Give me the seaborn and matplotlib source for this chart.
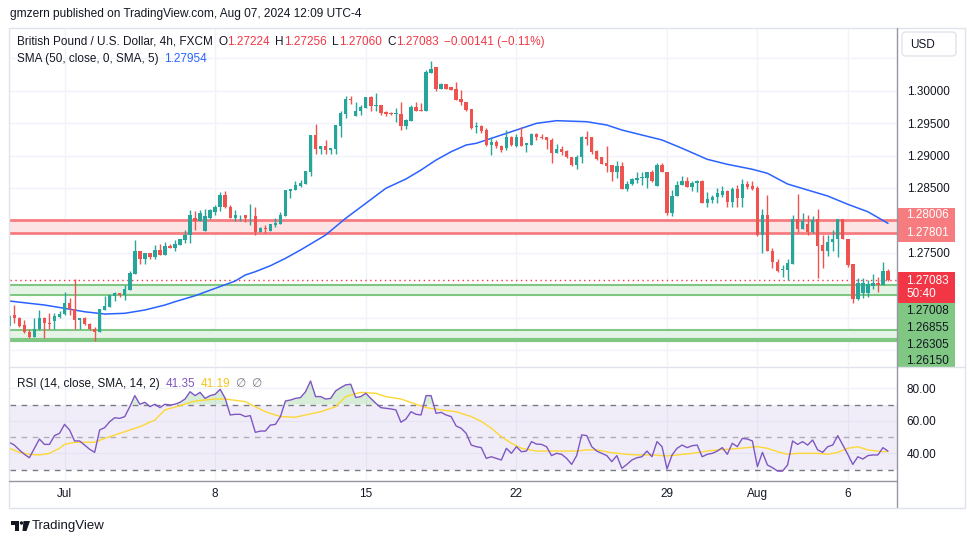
import numpy as np
import matplotlib
matplotlib.use("Agg")
import matplotlib.pyplot as plt
import seaborn as sns
from matplotlib.patches import Rectangle, FancyBboxPatch, Polygon, Circle

# GBPUSD 4h (FXCM), candles, oldest first
opens = [
    1.2637, 1.2654, 1.2650, 1.2639, 1.2628, 1.2620, 1.2632, 1.2649, 1.2641, 1.2645,
    1.2651, 1.2655, 1.2673, 1.2664, 1.2646, 1.2649, 1.2640, 1.2632, 1.2627, 1.2662,
    1.2667, 1.2683, 1.2688, 1.2685, 1.2693, 1.2718, 1.2753, 1.2740, 1.2749, 1.2743,
    1.2754, 1.2747, 1.2761, 1.2757, 1.2762, 1.2770, 1.2778, 1.2803, 1.2799, 1.2784,
    1.2803, 1.2813, 1.2820, 1.2839, 1.2821, 1.2804, 1.2806, 1.2808, 1.2806, 1.2806,
    1.2782, 1.2788, 1.2784, 1.2793, 1.2794, 1.2807, 1.2846, 1.2847, 1.2853, 1.2856,
    1.2875, 1.2932, 1.2910, 1.2915, 1.2909, 1.2910, 1.2946, 1.2964, 1.2987, 1.2961,
    1.2968, 1.2974, 1.2991, 1.2977, 1.2978, 1.2967, 1.2966, 1.2964, 1.2964, 1.2946,
    1.2954, 1.2975, 1.2971, 1.2968, 1.3028, 1.3036, 1.3002, 1.3010, 1.3005, 1.3003,
    1.2987, 1.2982, 1.2972, 1.2944, 1.2946, 1.2939, 1.2916, 1.2921, 1.2915, 1.2911,
    1.2929, 1.2915, 1.2929, 1.2917, 1.2916, 1.2933, 1.2929, 1.2929, 1.2924, 1.2904,
    1.2910, 1.2907, 1.2898, 1.2886, 1.2897, 1.2929, 1.2928, 1.2907, 1.2897, 1.2889,
    1.2885, 1.2874, 1.2884, 1.2848, 1.2856, 1.2862, 1.2866, 1.2866, 1.2875, 1.2853,
    1.2885, 1.2875, 1.2812, 1.2837, 1.2854, 1.2861, 1.2852, 1.2858, 1.2860, 1.2827,
    1.2832, 1.2836, 1.2839, 1.2845, 1.2829, 1.2848, 1.2835, 1.2856, 1.2853, 1.2850,
    1.2778, 1.2809, 1.2753, 1.2735, 1.2723, 1.2723, 1.2733, 1.2802, 1.2787, 1.2794,
    1.2782, 1.2802, 1.2762, 1.2752, 1.2766, 1.2771, 1.2802, 1.2772, 1.2732, 1.2678,
    1.2688, 1.2688, 1.2699, 1.2703, 1.2701, 1.27224]
highs = [
    1.2655, 1.2669, 1.2651, 1.2646, 1.2633, 1.2649, 1.2662, 1.2651, 1.2657, 1.2657,
    1.2660, 1.2689, 1.2680, 1.2709, 1.2650, 1.2651, 1.2642, 1.2635, 1.2663, 1.2683,
    1.2685, 1.2690, 1.2688, 1.2700, 1.2722, 1.2770, 1.2753, 1.2750, 1.2750, 1.2762,
    1.2763, 1.2766, 1.2764, 1.2770, 1.2772, 1.2785, 1.2816, 1.2814, 1.2816, 1.2818,
    1.2818, 1.2824, 1.2844, 1.2846, 1.2823, 1.2816, 1.2808, 1.2809, 1.2825, 1.2821,
    1.2790, 1.2793, 1.2794, 1.2803, 1.2813, 1.2847, 1.2848, 1.2860, 1.2862, 1.2876,
    1.2932, 1.2949, 1.2915, 1.2924, 1.2912, 1.2947, 1.2969, 1.2992, 1.2992, 1.2982,
    1.2978, 1.2991, 1.2992, 1.2996, 1.2978, 1.2969, 1.2967, 1.2973, 1.2982, 1.2957,
    1.2978, 1.2982, 1.2981, 1.3032, 1.3046, 1.3037, 1.3012, 1.3011, 1.3006, 1.3014,
    1.3001, 1.2983, 1.2972, 1.2951, 1.2947, 1.2942, 1.2929, 1.2924, 1.2916, 1.2939,
    1.2930, 1.2934, 1.2944, 1.2920, 1.2935, 1.2935, 1.2934, 1.2929, 1.2927, 1.2918,
    1.2914, 1.2909, 1.2898, 1.2901, 1.2930, 1.2938, 1.2928, 1.2909, 1.2898, 1.2914,
    1.2885, 1.2892, 1.2890, 1.2861, 1.2866, 1.2874, 1.2875, 1.2875, 1.2878, 1.2888,
    1.2888, 1.2875, 1.2847, 1.2861, 1.2868, 1.2867, 1.2860, 1.2862, 1.2863, 1.2844,
    1.2839, 1.2850, 1.2853, 1.2847, 1.2852, 1.2855, 1.2864, 1.2861, 1.2860, 1.2853,
    1.2817, 1.2839, 1.2757, 1.2740, 1.2731, 1.2740, 1.2808, 1.2840, 1.2812, 1.2808,
    1.2806, 1.2817, 1.2778, 1.2778, 1.2785, 1.2802, 1.2802, 1.2772, 1.2732, 1.2711,
    1.2711, 1.2708, 1.2717, 1.2713, 1.2736, 1.27256]
lows = [
    1.2634, 1.2642, 1.2636, 1.2626, 1.2619, 1.2620, 1.2631, 1.2619, 1.2632, 1.2632,
    1.2650, 1.2654, 1.2654, 1.2633, 1.2632, 1.2639, 1.2631, 1.2614, 1.2627, 1.2661,
    1.2667, 1.2675, 1.2681, 1.2677, 1.2692, 1.2718, 1.2733, 1.2733, 1.2741, 1.2741,
    1.2747, 1.2746, 1.2757, 1.2752, 1.2762, 1.2765, 1.2765, 1.2785, 1.2799, 1.2784,
    1.2802, 1.2808, 1.2814, 1.2819, 1.2803, 1.2799, 1.2799, 1.2797, 1.2793, 1.2778,
    1.2782, 1.2780, 1.2784, 1.2790, 1.2794, 1.2807, 1.2834, 1.2847, 1.2852, 1.2856,
    1.2869, 1.2903, 1.2903, 1.2902, 1.2903, 1.2902, 1.2928, 1.2958, 1.2979, 1.2961,
    1.2963, 1.2973, 1.2969, 1.2969, 1.2963, 1.2961, 1.2963, 1.2952, 1.2939, 1.2941,
    1.2954, 1.2968, 1.2968, 1.2968, 1.3028, 1.3000, 1.3002, 1.3003, 1.3001, 1.2985,
    1.2978, 1.2969, 1.2941, 1.2935, 1.2935, 1.2915, 1.2901, 1.2912, 1.2906, 1.2909,
    1.2915, 1.2913, 1.2915, 1.2906, 1.2916, 1.2924, 1.2925, 1.2910, 1.2889, 1.2904,
    1.2901, 1.2896, 1.2884, 1.2879, 1.2889, 1.2916, 1.2902, 1.2893, 1.2887, 1.2875,
    1.2860, 1.2865, 1.2848, 1.2845, 1.2855, 1.2857, 1.2855, 1.2850, 1.2859, 1.2853,
    1.2874, 1.2809, 1.2807, 1.2837, 1.2854, 1.2852, 1.2846, 1.2844, 1.2827, 1.2821,
    1.2827, 1.2827, 1.2836, 1.2821, 1.2821, 1.2821, 1.2820, 1.2848, 1.2847, 1.2776,
    1.2750, 1.2752, 1.2727, 1.2721, 1.2713, 1.2708, 1.2733, 1.2782, 1.2787, 1.2777,
    1.2781, 1.2711, 1.2727, 1.2745, 1.2752, 1.2743, 1.2771, 1.2728, 1.2672, 1.2677,
    1.2680, 1.2681, 1.2694, 1.2690, 1.2700, 1.27060]
closes = [
    1.2652, 1.2650, 1.2637, 1.2627, 1.2620, 1.2633, 1.2649, 1.2641, 1.2640, 1.2652,
    1.2655, 1.2672, 1.2664, 1.2646, 1.2650, 1.2640, 1.2632, 1.2627, 1.2663, 1.2668,
    1.2685, 1.2688, 1.2685, 1.2694, 1.2719, 1.2753, 1.2740, 1.2749, 1.2743, 1.2754,
    1.2747, 1.2760, 1.2758, 1.2763, 1.2771, 1.2778, 1.2809, 1.2799, 1.2811, 1.2806,
    1.2816, 1.2820, 1.2839, 1.2820, 1.2804, 1.2808, 1.2807, 1.2804, 1.2807, 1.2782,
    1.2788, 1.2786, 1.2794, 1.2796, 1.2808, 1.2847, 1.2848, 1.2855, 1.2858, 1.2876,
    1.2932, 1.2910, 1.2915, 1.2909, 1.2911, 1.2947, 1.2966, 1.2987, 1.2986, 1.2968,
    1.2975, 1.2990, 1.2977, 1.2978, 1.2966, 1.2964, 1.2964, 1.2965, 1.2946, 1.2955,
    1.2975, 1.2969, 1.2969, 1.3029, 1.3034, 1.3002, 1.3010, 1.3003, 1.3001, 1.2986,
    1.2982, 1.2971, 1.2942, 1.2946, 1.2938, 1.2916, 1.2921, 1.2914, 1.2909, 1.2928,
    1.2916, 1.2929, 1.2915, 1.2919, 1.2933, 1.2928, 1.2927, 1.2924, 1.2904, 1.2910,
    1.2906, 1.2897, 1.2885, 1.2898, 1.2929, 1.2926, 1.2906, 1.2895, 1.2887, 1.2884,
    1.2874, 1.2884, 1.2848, 1.2856, 1.2864, 1.2866, 1.2867, 1.2874, 1.2861, 1.2885,
    1.2874, 1.2812, 1.2838, 1.2855, 1.2861, 1.2852, 1.2858, 1.2860, 1.2827, 1.2833,
    1.2836, 1.2842, 1.2845, 1.2829, 1.2848, 1.2835, 1.2856, 1.2852, 1.2848, 1.2778,
    1.2809, 1.2753, 1.2735, 1.2722, 1.2725, 1.2734, 1.2802, 1.2786, 1.2799, 1.2782,
    1.2801, 1.2761, 1.2752, 1.2766, 1.2772, 1.2802, 1.2772, 1.2731, 1.2678, 1.2703,
    1.2703, 1.2702, 1.2703, 1.2700, 1.27224, 1.27083]

# SMA(50) read at a handful of bars (bar number, value)
sma_idx = [0, 3, 7, 11, 15, 19, 23, 27, 31, 33, 37, 41, 45, 47, 49, 52, 55, 58, 61, 63,
           67, 71, 75, 79, 82, 85, 88, 91, 93, 97, 101, 105, 109, 115, 119, 122, 130, 134,
           139, 143, 148, 151, 155, 159, 163, 167, 171, 175]
sma_val = [1.26756, 1.26729, 1.26694, 1.26643, 1.26590, 1.26555, 1.26566, 1.26617, 1.26694,
           1.26745, 1.26837, 1.26951, 1.27064, 1.27157, 1.27208, 1.27300, 1.27414, 1.27543,
           1.27681, 1.27774, 1.28032, 1.28263, 1.28495, 1.28638, 1.28777, 1.28931, 1.29059,
           1.29163, 1.29189, 1.29291, 1.29394, 1.29497, 1.29538, 1.29522, 1.29471, 1.29394,
           1.29240, 1.29112, 1.28942, 1.28865, 1.28788, 1.28726, 1.28561, 1.28468, 1.28376,
           1.28248, 1.28133, 1.27954]

# RSI(14), one value per bar
rsi = [
    46.8, 45.1, 42.1, 39.4, 37.3, 43.1, 48.8, 45.5, 45.5, 50.9,
    52.3, 57.8, 54.4, 47.6, 47.6, 45.1, 42.5, 40.6, 54.4, 55.8,
    59.5, 61.9, 61.5, 62.6, 68.7, 75.5, 70.2, 71.4, 68.7, 70.2,
    68.1, 70.2, 69.7, 70.2, 71.4, 73.4, 77.9, 75.5, 77.5, 73.8,
    75.5, 76.3, 79.4, 73.8, 63.6, 64.0, 64.0, 62.6, 63.2, 52.9,
    53.7, 53.7, 57.4, 57.8, 62.6, 72.2, 72.8, 73.8, 74.3, 77.9,
    84.5, 74.9, 74.9, 73.4, 73.8, 78.4, 80.4, 82.1, 82.5, 74.3,
    74.9, 76.9, 73.8, 70.8, 68.1, 67.7, 67.3, 66.7, 59.1, 61.1,
    65.6, 64.0, 63.6, 75.5, 75.5, 64.6, 65.2, 63.6, 62.6, 56.8,
    55.4, 52.3, 45.1, 44.1, 43.5, 36.9, 37.9, 36.9, 35.9, 43.1,
    40.0, 44.1, 41.0, 41.4, 47.2, 45.7, 45.5, 44.1, 38.6, 40.0,
    39.4, 36.9, 33.2, 38.6, 51.3, 50.9, 44.1, 41.4, 40.0, 38.6,
    34.9, 38.6, 30.8, 33.2, 35.9, 37.3, 37.9, 41.4, 37.9, 47.2,
    44.1, 30.4, 39.0, 43.1, 45.1, 43.5, 44.7, 45.1, 37.9, 39.4,
    40.0, 41.4, 43.5, 39.4, 46.2, 44.1, 49.2, 48.8, 47.6, 31.8,
    40.6, 32.8, 31.2, 29.1, 29.1, 32.8, 47.6, 45.5, 47.2, 45.1,
    48.2, 42.1, 40.6, 44.1, 45.1, 50.9, 45.1, 39.4, 33.2, 37.9,
    36.5, 38.6, 39.0, 39.0, 43.5, 41.35]

# RSI-based SMA(14), read at a handful of bars
rsi_ma_idx = [0, 2, 4, 6, 8, 10, 11, 13, 17, 19, 22, 26, 29, 31, 34, 37, 41, 43, 47, 49,
              51, 54, 57, 59, 62, 65, 67, 70, 73, 75, 78, 81, 83, 86, 89, 92, 94, 96, 98, 100,
              102, 105, 109, 113, 115, 117, 120, 123, 125, 128, 131, 133, 136, 139, 141, 144,
              147, 149, 151, 153, 155, 157, 161, 163, 165, 167, 169, 171, 174, 175]
rsi_ma = [43.1, 40.6, 39.4, 39.0, 40.0, 43.1, 45.5, 46.8, 46.8, 49.2, 52.3, 56.4, 60.5, 66.7,
          69.3, 72.2, 73.4, 73.4, 71.8, 68.7, 65.6, 62.6, 62.2, 63.6, 65.6, 68.7, 74.9, 77.5,
          76.9, 74.9, 73.4, 70.2, 68.1, 66.7, 65.6, 62.6, 59.7, 55.4, 50.3, 46.2, 43.1, 41.4,
          41.4, 41.4, 42.1, 42.1, 40.4, 39.4, 39.0, 39.0, 38.4, 39.0, 40.0, 41.4, 42.1, 42.7,
          43.5, 44.1, 43.1, 41.0, 39.4, 40.0, 40.0, 39.4, 40.6, 43.1, 44.1, 42.1, 41.0, 41.19]

date_idx = [11, 41, 71, 101, 131, 149, 167]
date_lbl = ["Jul", "8", "15", "22", "29", "Aug", "6"]

price_ticks = [1.260, 1.265, 1.270, 1.275, 1.280, 1.285, 1.290, 1.295, 1.300, 1.305]
price_lbls = ["", "", "", "1.27500", "", "1.28500", "1.29000", "1.29500", "1.30000", ""]

zone_red = (1.27801, 1.28006)
zone_g1 = (1.26855, 1.27008)
zone_g2 = (1.26150, 1.26305)
last_price = 1.27083
sma_last = 1.27954
rsi_last, rsi_ma_last = 41.35, 41.19

GREEN, RED = "#26a69a", "#ef5350"
TXT = "#131722"
W, H = 970, 545

sns.set_theme(style="white")
plt.rcParams["font.family"] = ["Liberation Sans", "DejaVu Sans"]


def fx(px):
    return px / W


def fy(py):
    return 1 - py / H


fig = plt.figure(figsize=(W / 100, H / 100), dpi=100)
fig.patch.set_facecolor("white")
ax = fig.add_axes([fx(10), fy(366), (897 - 10) / W, (366 - 28) / H])
ax2 = fig.add_axes([fx(10), fy(480), (897 - 10) / W, (480 - 367) / H])

idx = np.arange(len(closes))
o, c = np.array(opens), np.array(closes)
h, l = np.array(highs), np.array(lows)
cols = np.where(c >= o, GREEN, RED)

# ---- price pane ----
ax.set_xlim(0.14, 176.8)
ax.set_ylim(1.25753, 1.30968)
ax.set_xticks(date_idx)
ax.set_xticklabels([])
ax.set_yticks(price_ticks)
ax.set_yticklabels(price_lbls)
ax.yaxis.tick_right()
ax.tick_params(axis="both", length=0)
ax.tick_params(axis="y", pad=7, labelsize=8.5, labelcolor=TXT)
ax.grid(True, color="#f0f3fa", lw=1)
ax.set_axisbelow(True)
for s in ax.spines.values():
    s.set_visible(False)

for lo, hi, fill, edge, lw in [(*zone_red, "#fde4e4", "#f77c80", 2.0),
                               (*zone_g1, "#e6f4e7", "#81c784", 1.5),
                               (*zone_g2, "#e6f4e7", "#81c784", 1.5)]:
    ax.axhspan(lo, hi, color=fill, lw=0, zorder=1)
    ax.axhline(lo, color=edge, lw=lw if lo != zone_g2[0] else 3, zorder=2)
    ax.axhline(hi, color=edge, lw=lw, zorder=2)

ax.axhline(last_price, color="#f23645", lw=1, ls=(0, (1, 2.5)), zorder=2)

sns.lineplot(x=sma_idx, y=sma_val, ax=ax, color="#2962ff", linewidth=1.1, zorder=3)

ax.vlines(idx, l, h, colors=cols, linewidth=1, zorder=4)
ax.bar(idx, np.maximum(np.abs(c - o), 0.00008), bottom=np.minimum(o, c), width=0.68,
       color=cols, linewidth=0, zorder=5)

# ---- RSI pane ----
rsi_a = np.array(rsi)
ax2.set_xlim(0.14, 176.8)
ax2.set_ylim(23.6, 93.1)
ax2.axhspan(30, 70, color="#7e57c2", alpha=0.1, lw=0, zorder=1)
for lv, a in [(70, 1.0), (30, 1.0), (50, 0.55)]:
    ax2.axhline(lv, color="#787b86", lw=1, ls=(0, (4, 4)), alpha=a, zorder=2)
ax2.fill_between(idx, rsi_a, 70, where=rsi_a > 70, interpolate=True, color="#4caf50",
                 alpha=0.22, lw=0, zorder=2)
ax2.fill_between(idx, rsi_a, 30, where=rsi_a < 30, interpolate=True, color="#f23645",
                 alpha=0.22, lw=0, zorder=2)
sns.lineplot(x=rsi_ma_idx, y=rsi_ma, ax=ax2, color="#fdd835", linewidth=1, zorder=3)
sns.lineplot(x=idx, y=rsi_a, ax=ax2, color="#7e57c2", linewidth=1, zorder=4)
ax2.set_xticks(date_idx)
ax2.set_xticklabels(date_lbl)
ax2.set_yticks([40, 60, 80])
ax2.set_yticklabels(["40.00", "60.00", "80.00"])
ax2.yaxis.tick_right()
ax2.tick_params(axis="both", length=0, labelsize=8.5, labelcolor=TXT)
ax2.tick_params(axis="y", pad=7)
ax2.tick_params(axis="x", pad=6)
ax2.grid(True, color="#f0f3fa", lw=1)
ax2.set_axisbelow(True)
ax2.set_xlabel("")
ax2.set_ylabel("")
ax.set_xlabel("")
ax.set_ylabel("")
for s in ax2.spines.values():
    s.set_visible(False)

# ---- chrome drawn in pixel space ----
ov = fig.add_axes([0, 0, 1, 1], zorder=10)
ov.set_xlim(0, W)
ov.set_ylim(H, 0)
ov.axis("off")
ov.patch.set_alpha(0)

ov.add_patch(Rectangle((9, 27.5), 956, 480, fill=False, ec="#e0e3eb", lw=1))
ov.plot([9, 965], [366.5, 366.5], color="#e0e3eb", lw=1)
ov.plot([9, 897.5], [480.5, 480.5], color="#9598a1", lw=1)
ov.plot([897.5, 897.5], [27.5, 507], color="#9598a1", lw=1)

ov.add_patch(FancyBboxPatch((902, 32), 54, 24, boxstyle="round,pad=0,rounding_size=4",
                            fc="white", ec="#e0e3eb", lw=1))
ov.text(910, 44.5, "USD", fontsize=8.5, color=TXT, va="center")

# price tags on the scale
ov.add_patch(Rectangle((898, 207.5), 57, 34, color="#f77c80", lw=0))
ov.text(906, 215.5, f"{zone_red[1]:.5f}", color="white", fontsize=8.5, va="center")
ov.text(906, 233, f"{zone_red[0]:.5f}", color="white", fontsize=8.5, va="center")
ov.add_patch(Rectangle((898, 271.5), 57, 31, color="#f23645", lw=0))
ov.text(906, 280.5, f"{last_price:.5f}", color="white", fontsize=8.5, va="center")
ov.text(906, 294, "50:40", color="white", fontsize=8.5, va="center")
ov.add_patch(Rectangle((898, 302.5), 57, 64, color="#81c784", lw=0))
for yy, v in [(311, zone_g1[1]), (328, zone_g1[0]), (345, zone_g2[1]), (361, zone_g2[0])]:
    ov.text(906, yy, f"{v:.5f}", color=TXT, fontsize=8.5, va="center")

renderer = fig.canvas.get_renderer()


def seq_text(x, y, parts, size):
    for s, col, gap in parts:
        t = ov.text(x, y, s, color=col, fontsize=size, va="center", ha="left")
        x = ov.transData.inverted().transform(
            (t.get_window_extent(renderer=renderer).x1, 0))[0] + gap


ov.text(10, 14, "gmzern published on TradingView.com, Aug 07, 2024 12:09 UTC-4",
        fontsize=8.6, color=TXT, va="center")
seq_text(17, 42, [("British Pound / U.S. Dollar, 4h, FXCM", TXT, 5.5),
                  ("O", TXT, 0), ("1.27224", "#f23645", 5.5),
                  ("H", TXT, 0), ("1.27256", "#f23645", 5.5),
                  ("L", TXT, 0), ("1.27060", "#f23645", 5.5),
                  ("C", TXT, 0), ("1.27083", "#f23645", 5.5),
                  ("\u22120.00141 (\u22120.11%)", "#f23645", 0)], 8.5)
seq_text(17, 59, [("SMA (50, close, 0, SMA, 5)", TXT, 5.5),
                  (f"{sma_last:.5f}", "#2962ff", 0)], 8.5)
seq_text(17, 384, [("RSI (14, close, SMA, 14, 2)", TXT, 5.5),
                   (f"{rsi_last:.2f}", "#7e57c2", 5.5),
                   (f"{rsi_ma_last:.2f}", "#f5c518", 5.5),
                   ("\u2205", "#787b86", 5.5), ("\u2205", "#787b86", 0)], 8.5)

# TradingView logo + wordmark
ov.add_patch(Polygon([(11, 521), (19, 521), (19, 531), (15.5, 531), (15.5, 524.5), (11, 524.5)],
                     closed=True, color="#131722", lw=0))
ov.add_patch(Circle((21.5, 523), 1.7, color="#131722", lw=0))
ov.add_patch(Polygon([(23.5, 521), (30, 521), (26.5, 531), (22.5, 531)],
                     closed=True, color="#131722", lw=0))
ov.text(32, 526.5, "TradingView", fontsize=9.5, color=TXT, va="center")

fig.savefig("out.png", dpi=100, facecolor="white")
